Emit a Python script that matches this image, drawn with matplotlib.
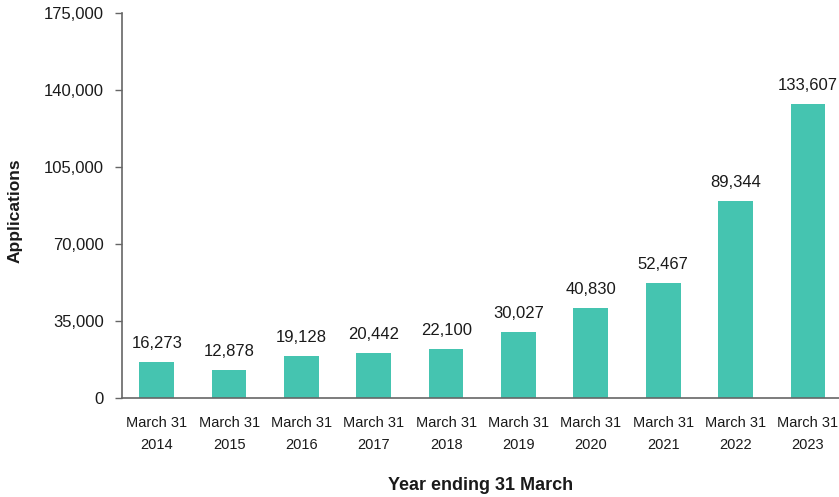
import matplotlib.pyplot as plt
from matplotlib.ticker import FuncFormatter

plt.rcParams['font.family'] = ['Liberation Sans', 'DejaVu Sans']

years = ['2014', '2015', '2016', '2017', '2018', '2019', '2020', '2021', '2022', '2023']
applications = [16273, 12878, 19128, 20442, 22100, 30027, 40830, 52467, 89344, 133607]
yticks = [0, 35000, 70000, 105000, 140000, 175000]

bar_color = '#45C4B0'
text_color = '#1a1a1a'
axis_color = '#666666'


def main():
    fig = plt.figure(figsize=(8.39, 4.97), dpi=100)
    ax = fig.add_axes([0.1454, 0.199, 0.8546, 0.775])

    x = range(len(years))
    ax.bar(x, applications, width=0.48, color=bar_color)
    for xi, v in zip(x, applications):
        ax.annotate(f'{v:,}', (xi, v), xytext=(0, 8), textcoords='offset points',
                    ha='center', va='bottom', fontsize=12, color=text_color)

    ax.set_xlim(-0.48, 9.43)
    ax.set_ylim(0, 175000)
    ax.set_yticks(yticks)
    ax.yaxis.set_major_formatter(FuncFormatter(lambda v, p: f'{int(v):,}'))
    ax.set_xticks(list(x))
    ax.set_xticklabels([f'March 31\n{y}' for y in years], fontsize=10.5,
                       color=text_color, linespacing=1.7)
    ax.tick_params(axis='x', length=0, pad=13)
    ax.tick_params(axis='y', length=5, width=1, color=axis_color,
                   labelsize=12, labelcolor=text_color, pad=8)

    for side in ['top', 'right']:
        ax.spines[side].set_visible(False)
    for side in ['left', 'bottom']:
        ax.spines[side].set_color(axis_color)
        ax.spines[side].set_linewidth(1.2)

    ax.set_ylabel('Applications', fontsize=12.5, fontweight='bold', color=text_color)
    ax.yaxis.set_label_coords(-0.138, 0.486)
    ax.set_xlabel('Year ending 31 March', fontsize=13, fontweight='bold', color=text_color, labelpad=18)

    fig.savefig('out.png', dpi=100)


if __name__ == '__main__':
    main()
